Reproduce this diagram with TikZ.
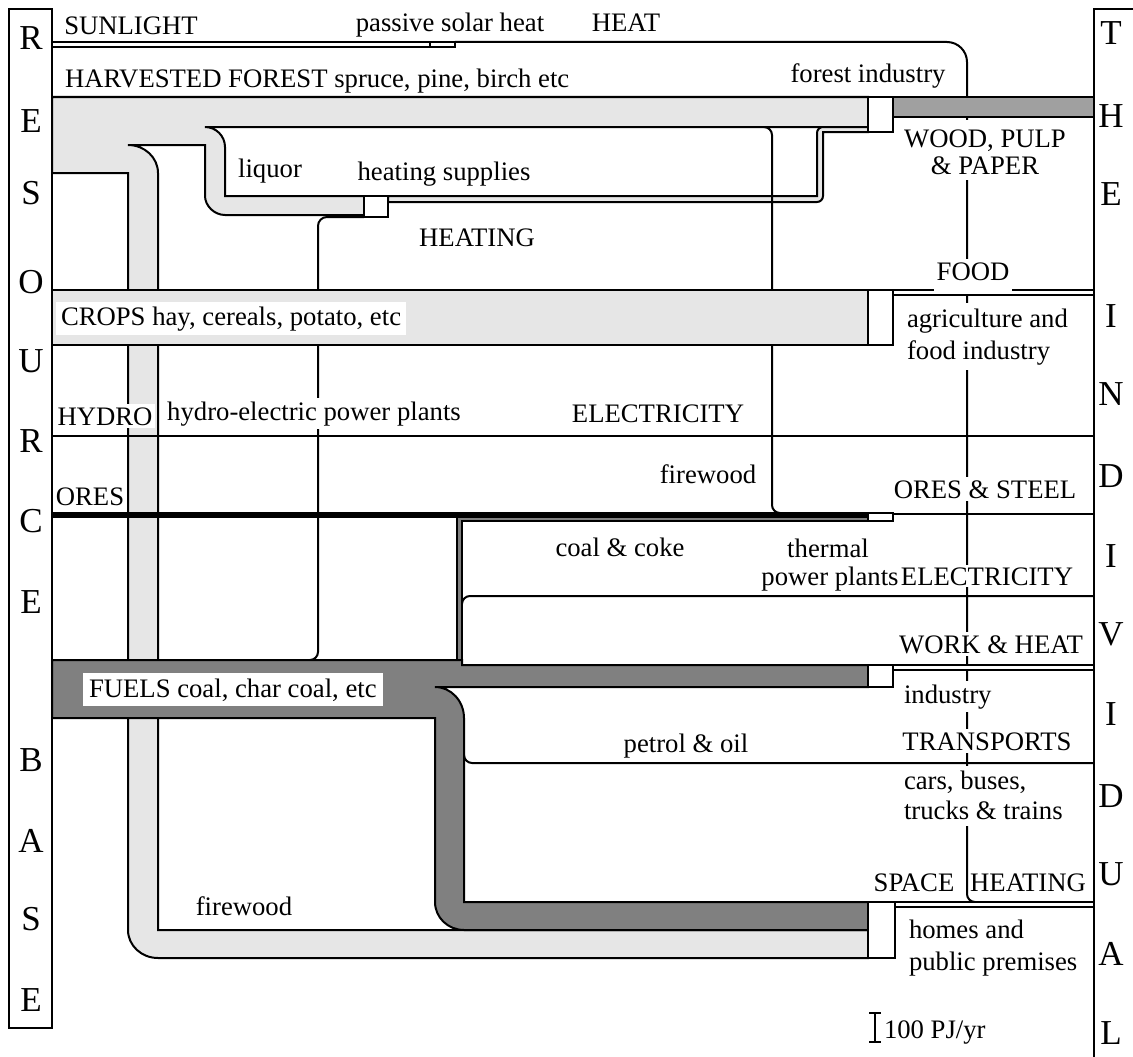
\documentclass[tikz,border=0pt]{standalone}
\usepackage{fontspec}
\setmainfont{Liberation Serif}
\definecolor{lg}{HTML}{E6E6E6}
\definecolor{wg}{HTML}{A0A0A0}
\definecolor{fg}{HTML}{808080}
\tikzset{
  lbl/.style={font=\fontsize{26.7}{27}\selectfont, inner sep=0pt, anchor=base},
  wlbl/.style={lbl, fill=white, inner sep=3pt},
  big/.style={font=\fontsize{35}{35}\selectfont, inner sep=0pt, anchor=base},
  pbox/.style={draw=black, fill=white},
}
\begin{document}
\begin{tikzpicture}[x=1pt,y=-1pt,line width=2pt]
\useasboundingbox[fill=white] (0,0) rectangle (1133,1057);

% heat line (passive solar -> space heating)
\draw (455,42) -- (947,42) .. controls (958,42) and (967,51) .. (967,62) -- (967,894) .. controls (967,898.4) and (970.6,902) .. (975,902);
% label backgrounds hiding the heat line behind two-line labels
\fill[white] (959,120) rectangle (976,180);
\fill[white] (959,303) rectangle (976,370);
\fill[white] (959,766) rectangle (976,826);

% harvested forest flow
\filldraw[fill=lg] (52,97) -- (868,97) -- (868,127) -- (205,127) .. controls (216,127) and (225,136) .. (225,147) -- (225,196) -- (364,196) -- (364,215) -- (225,215) .. controls (214,215) and (205,205.5) .. (205,196) -- (205,145) -- (128,145) .. controls (144.6,145) and (158,157.5) .. (158,173) -- (158,930) -- (868,930) -- (868,958) -- (158,958) .. controls (141.4,958) and (128,945.5) .. (128,930) -- (128,173) -- (52,173) -- cycle;

% heating supplies return band
\filldraw[fill=lg] (388,196) -- (817,196) -- (817,133) .. controls (817,129.7) and (819.7,127) .. (823,127) -- (868,127) -- (868,132) -- (823,132) -- (823,196) .. controls (823,199.3) and (820.3,202) .. (817,202) -- (388,202) -- cycle;

% firewood line to ores
\draw (764,127) .. controls (768.4,127) and (772,130.6) .. (772,135) -- (772,505) .. controls (772,509.4) and (775.6,513) .. (780,513);

% HEATING line
\draw (364,217) -- (327,217) .. controls (322,217) and (318,221) .. (318,226) -- (318,652) .. controls (318,656.4) and (314.4,660) .. (310,660);

% boxes at top
\filldraw[pbox] (364,196) rectangle (388,217);
\filldraw[pbox] (868,97) rectangle (893,132);
\filldraw[fill=wg] (893,97) rectangle (1094,117);

% sunlight
\draw (52,42) -- (430,42) (52,47) -- (430,47);
\filldraw[pbox] (430,42) rectangle (455,47);

% crops
\filldraw[fill=lg] (52,290) rectangle (868,345);
\filldraw[pbox] (868,290) rectangle (893,345);
\filldraw[pbox] (893,290) rectangle (1094,295);

% hydro
\draw (52,436) -- (1094,436);

% coal & ores
\filldraw[fill=fg] (457,517) -- (868,517) -- (868,521) -- (462,521) -- (462,660) -- (457,660) -- cycle;
\filldraw[fill=black] (52,513) rectangle (868,517);
\filldraw[pbox] (868,513) rectangle (893,521);
\draw (893,514) -- (1094,514);
\draw (462,604) .. controls (462,599.6) and (465.6,596) .. (470,596) -- (1094,596);

% fuels
\filldraw[fill=fg] (52,660) -- (462,660) -- (462,665) -- (868,665) -- (868,687) -- (435,687) .. controls (451,687) and (464,700.9) .. (464,718) -- (464,902) -- (868,902) -- (868,930) -- (464,930) .. controls (448,930) and (435,917.5) .. (435,902) -- (435,718) -- (52,718) -- cycle;
\draw (464,755) .. controls (464,759.4) and (467.6,763) .. (472,763) -- (1094,763);
\filldraw[pbox] (868,665) rectangle (893,687);
\filldraw[pbox] (893,665) rectangle (1094,670);
\filldraw[pbox] (868,902) rectangle (895,958);
\filldraw[pbox] (895,902) rectangle (1094,907);

% side columns
\draw (9,9) rectangle (52,1028);
\draw (1140,9) -- (1094,9) -- (1094,1065);

% scale bar
\draw (875,1013) -- (875,1042) (869,1013) -- (881,1013) (869,1042) -- (881,1042);

% labels
\node[lbl] (sun) at (131,35) {SUNLIGHT};
\node[lbl] (pas) at (450,32) {passive solar heat};
\node[lbl] (heat) at (626,32) {HEAT};
\node[lbl, anchor=base west] (harv) at (64,88) {HARVESTED FOREST spruce, pine, birch etc};
\node[lbl] (fi) at (868,82) {forest industry};
\node[lbl] (liq) at (270,177) {liquor};
\node[lbl] (hs) at (444,180) {heating supplies};
\node[lbl] (heating) at (477,246) {HEATING};
\node[wlbl, inner ysep=1pt] (wood1) at (985,147) {WOOD, PULP};
\node[wlbl, inner ysep=1pt] (wood2) at (985,174) {\& PAPER};
\node[wlbl, text depth=8pt] (food) at (973,280) {FOOD};
\node[wlbl, anchor=base west, inner xsep=5pt, inner ysep=4pt] (crops) at (55,325) {CROPS hay, cereals, potato, etc};
\node[wlbl, anchor=base west, inner ysep=1pt] (agr1) at (903,327) {agriculture and};
\node[wlbl, anchor=base west, inner ysep=1pt] (agr2) at (903,359) {food industry};
\node[wlbl] (hydro) at (105,425) {HYDRO};
\node[wlbl] (hep) at (314,420) {hydro-electric power plants};
\node[lbl] (el1) at (658,422) {ELECTRICITY};
\node[lbl] (ores) at (90,505) {ORES};
\node[lbl] (fw1) at (708,483) {firewood};
\node[wlbl] (os) at (985,498) {ORES \& STEEL};
\node[lbl] (cc) at (620,556) {coal \& coke};
\node[lbl] (th1) at (828,557) {thermal};
\node[lbl] (th2) at (830,585) {power plants};
\node[wlbl, inner ysep=2pt] (el2) at (987,585) {ELECTRICITY};
\node[wlbl] (wh) at (991,653) {WORK \& HEAT};
\node[wlbl, anchor=base west, inner xsep=6pt, inner ysep=5pt] (fuels) at (82,697) {FUELS coal, char coal, etc};
\node[wlbl, anchor=base west] (ind) at (900,703) {industry};
\node[lbl] (po) at (686,752) {petrol \& oil};
\node[wlbl] (tr) at (987,750) {TRANSPORTS};
\node[wlbl, anchor=base west, inner ysep=1pt] (car1) at (900,789) {cars, buses,};
\node[wlbl, anchor=base west, inner ysep=1pt] (car2) at (900,819) {trucks \& trains};
\node[lbl] (sp1) at (914,891) {SPACE};
\node[lbl] (sp2) at (1028,891) {HEATING};
\node[lbl, anchor=base west] (hom1) at (908,938) {homes and};
\node[lbl, anchor=base west] (hom2) at (908,970) {public premises};
\node[lbl] (fw2) at (244,915) {firewood};
\node[lbl, anchor=base west] (scale) at (883,1038) {100 PJ/yr};

% column letters
\foreach \l/\y [count=\i] in {R/50,E/132,S/204,O/293,U/372,R/452,C/532,E/613,B/771,A/852,S/930,E/1011}
  \node[big] (res\i) at (31,\y) {\l};
\foreach \l/\y [count=\i] in {T/45,H/128,E/205,I/327,N/405,D/487,I/567,V/645,I/725,D/807,U/885,A/965,L/1044}
  \node[big] (ind\i) at (1111,\y) {\l};
\end{tikzpicture}
\end{document}
